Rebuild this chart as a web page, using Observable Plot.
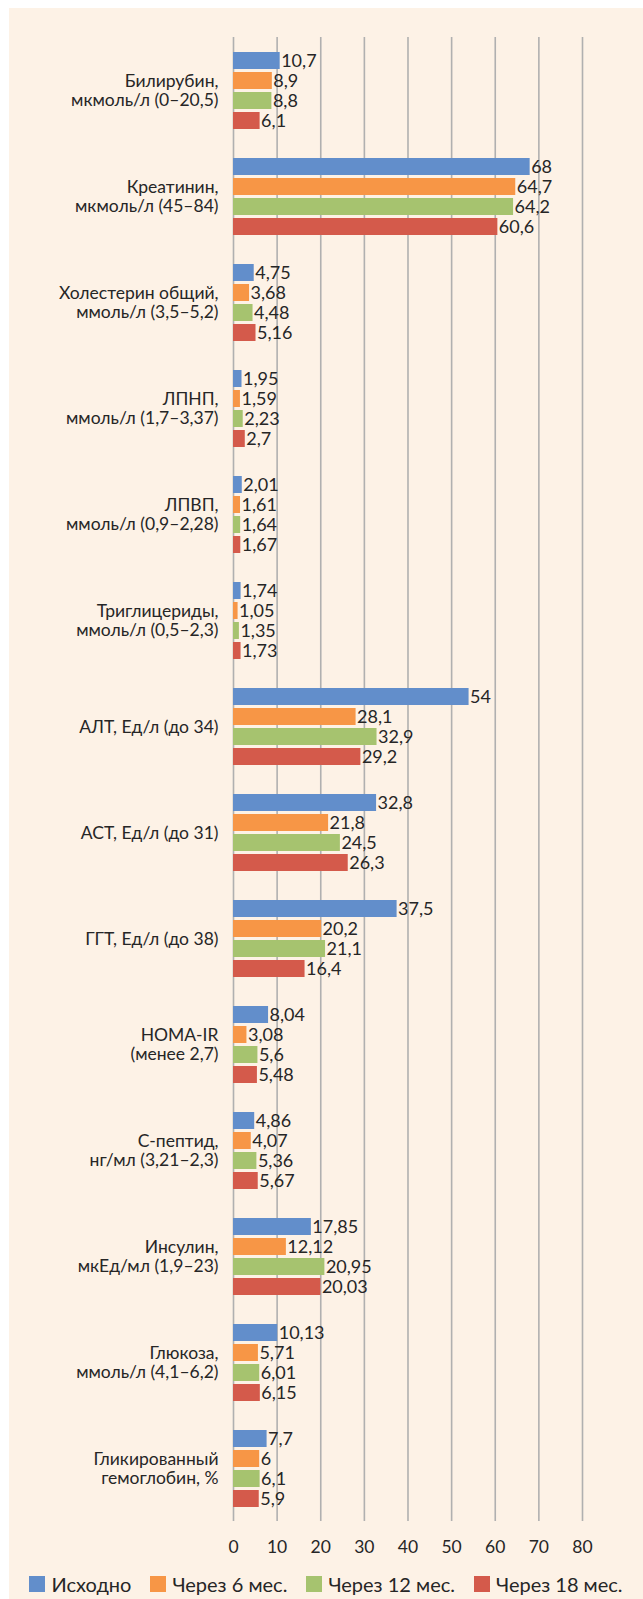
<!DOCTYPE html>
<html>
<head>
<meta charset="utf-8">
<script src="https://cdn.jsdelivr.net/npm/d3@7"></script>
<script src="https://cdn.jsdelivr.net/npm/@observablehq/plot@0.6"></script>
<style>
  html, body { margin: 0; padding: 0; background: #ffffff; }
  #panel {
    position: absolute; left: 9px; top: 8px; width: 634px; height: 1591px;
    background: #fdf2e6; font-family: Lato, "Noto Sans", sans-serif; color: #262626;
  }
  #legend {
    position: absolute; left: 0; top: 1560px; width: 634px; height: 32px;
    display: flex; justify-content: center; align-items: center; gap: 19px;
    font-size: 20px;
  }
  #legend .item { display: flex; align-items: center; gap: 6px; }
  #legend .sw { width: 16px; height: 16px; display: inline-block; }
</style>
</head>
<body>
<div id="panel"><div id="chart"></div><div id="legend"></div></div>
<script>
const categories = [
  "Билирубин,\nмкмоль/л (0–20,5)",
  "Креатинин,\nмкмоль/л (45–84)",
  "Холестерин общий,\nммоль/л (3,5–5,2)",
  "ЛПНП,\nммоль/л (1,7–3,37)",
  "ЛПВП,\nммоль/л (0,9–2,28)",
  "Триглицериды,\nммоль/л (0,5–2,3)",
  "АЛТ, Ед/л (до 34)",
  "АСТ, Ед/л (до 31)",
  "ГГТ, Ед/л (до 38)",
  "HOMA-IR\n(менее 2,7)",
  "С-пептид,\nнг/мл (3,21–2,3)",
  "Инсулин,\nмкЕд/мл (1,9–23)",
  "Глюкоза,\nммоль/л (4,1–6,2)",
  "Гликированный\nгемоглобин, %"
];
const seriesNames = ["Исходно", "Через 6 мес.", "Через 12 мес.", "Через 18 мес."];
const seriesColors = ["#628ecb", "#f79646", "#a6c36f", "#d45a4b"];
const baseline  = [10.7, 68, 4.75, 1.95, 2.01, 1.74, 54, 32.8, 37.5, 8.04, 4.86, 17.85, 10.13, 7.7];
const month6    = [8.9, 64.7, 3.68, 1.59, 1.61, 1.05, 28.1, 21.8, 20.2, 3.08, 4.07, 12.12, 5.71, 6];
const month12   = [8.8, 64.2, 4.48, 2.23, 1.64, 1.35, 32.9, 24.5, 21.1, 5.6, 5.36, 20.95, 6.01, 6.1];
const month18   = [6.1, 60.6, 5.16, 2.7, 1.67, 1.73, 29.2, 26.3, 16.4, 5.48, 5.67, 20.03, 6.15, 5.9];
const xTicks = [0, 10, 20, 30, 40, 50, 60, 70, 80];

const seriesValues = [baseline, month6, month12, month18];
const rows = [];
categories.forEach((c, i) => {
  seriesNames.forEach((s, j) => rows.push({cat: c, series: s, value: seriesValues[j][i]}));
});
const fmt = v => String(v).replace(".", ",");

const chart = Plot.plot({
  width: 634,
  height: 1560,
  marginLeft: 224,
  marginRight: 61,
  marginTop: 25,
  marginBottom: 44,
  style: {fontFamily: "Lato, 'Noto Sans', sans-serif", background: "transparent", color: "#262626"},
  x: {domain: [0, 80], axis: null},
  y: {domain: seriesNames, paddingInner: 0.17, paddingOuter: 0.64, axis: null},
  fy: {domain: categories, padding: 0, axis: null},
  color: {domain: seriesNames, range: seriesColors},
  marks: [
    Plot.gridX(xTicks, {stroke: "#b0b0b0", strokeOpacity: 1, strokeWidth: 1.6}),
    Plot.barX(rows, {x: "value", y: "series", fy: "cat", fill: "series"}),
    Plot.text(rows, {x: "value", y: "series", fy: "cat", text: d => fmt(d.value),
      textAnchor: "start", dx: 1, fontSize: 18, fill: "#262626"}),
    Plot.axisFy({anchor: "left", tickSize: 0, tickPadding: 15, fontSize: 17.5, lineHeight: 1.08, fill: "#262626", label: null}),
    Plot.axisX(xTicks, {tickSize: 0, tickPadding: 19, fontSize: 17.5, fill: "#262626", label: null})
  ]
});
document.getElementById("chart").appendChild(chart);

const legend = document.getElementById("legend");
seriesNames.forEach((s, j) => {
  const it = document.createElement("div");
  it.className = "item";
  it.innerHTML = `<span class="sw" style="background:${seriesColors[j]}"></span><span>${s}</span>`;
  legend.appendChild(it);
});
</script>
</body>
</html>
